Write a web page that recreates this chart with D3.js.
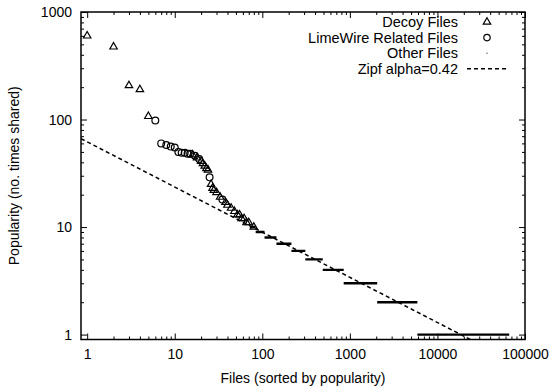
<!DOCTYPE html>
<html>
  <head>
    <title>File popularity</title>
    <script src="https://d3js.org/d3.v7.min.js"></script>
    <style>
      body { margin: 0; background: white; }
      text { font-family: "Liberation Sans", Arial, sans-serif; fill: black; }
      .axis path { stroke: none; }
      .axis line { stroke: black; stroke-width: 1; }
      .axis text { font-size: 14px; }
    </style>
  </head>
  <body>
    <div id="chart"></div>
    <script>
      // Decoy files (rank, times shared)
      const decoyRank = [1, 2, 3, 4, 5, 16, 18, 20, 21, 22, 23, 24, 26, 27, 28, 30, 33, 38, 40, 44, 48, 52, 55, 58, 62, 66, 70, 80];
      const decoyPop = [600, 474, 207, 190, 107, 47, 44, 41, 39, 37, 35, 34, 25, 23, 22, 21, 19, 17, 16, 15, 14, 13, 13, 12, 12, 11, 11, 10];

      // LimeWire related files
      const limeRank = [6, 7, 8, 9, 10, 11, 12, 13, 14, 15, 17, 19, 25, 35];
      const limePop = [98, 60, 58, 56, 55, 50, 49, 49, 48, 48, 46, 43, 29, 18];

      // Other files: runs of equal popularity (first rank, last rank)
      const otherPop = [10, 9, 8, 7, 6, 5, 4, 3, 2, 1];
      const otherFrom = [72, 84, 106, 145, 215, 310, 490, 850, 2050, 5900];
      const otherTo = [84, 106, 145, 215, 310, 490, 850, 2050, 5900, 66000];

      // Zipf fit
      const zipfAlpha = 0.42;
      const zipfC = 62;

      const xTicks = [1, 10, 100, 1000, 10000, 100000];
      const yTicks = [1, 10, 100, 1000];
      const legendLabels = ["Decoy Files", "LimeWire Related Files", "Other Files", "Zipf alpha=0.42"];

      const W = 550, H = 387;
      const margin = { top: 12, right: 25, bottom: 47.5, left: 81 };

      const svg = d3.select("#chart").append("svg").attr("width", W).attr("height", H);

      const x = d3.scaleLog().domain([0.85, 100000]).range([margin.left, W - margin.right]);
      const y = d3.scaleLog().domain([0.9, 1000]).range([H - margin.bottom, margin.top]);

      const x0 = x.range()[0], x1 = x.range()[1];
      const y0 = y.range()[0], y1 = y.range()[1];

      // minor ticks 2..9 per decade
      function minors(lo, hi) {
        const out = [];
        for (let d = lo; d < hi; d *= 10) for (let k = 2; k <= 9; k++) if (d * k <= hi) out.push(d * k);
        return out;
      }
      const xMinor = minors(1, 100000);
      const yMinor = minors(1, 1000);

      // axes (ticks inward like gnuplot)
      svg.append("g").attr("class", "axis").attr("transform", `translate(0,${y0})`)
        .call(d3.axisBottom(x).tickValues(xTicks).tickSize(-6).tickPadding(10).tickFormat(d3.format("d")));
      svg.append("g").attr("class", "axis").attr("transform", `translate(0,${y0})`)
        .call(d3.axisBottom(x).tickValues(xMinor).tickSize(-3).tickFormat(""));
      svg.append("g").attr("class", "axis").attr("transform", `translate(0,${y1})`)
        .call(d3.axisTop(x).tickValues(xTicks).tickSize(-6).tickFormat(""));
      svg.append("g").attr("class", "axis").attr("transform", `translate(0,${y1})`)
        .call(d3.axisTop(x).tickValues(xMinor).tickSize(-3).tickFormat(""));

      svg.append("g").attr("class", "axis").attr("transform", `translate(${x0},0)`)
        .call(d3.axisLeft(y).tickValues(yTicks).tickSize(-6).tickPadding(9).tickFormat(d3.format("d")));
      svg.append("g").attr("class", "axis").attr("transform", `translate(${x0},0)`)
        .call(d3.axisLeft(y).tickValues(yMinor).tickSize(-3).tickFormat(""));
      svg.append("g").attr("class", "axis").attr("transform", `translate(${x1},0)`)
        .call(d3.axisRight(y).tickValues(yTicks).tickSize(-6).tickFormat(""));
      svg.append("g").attr("class", "axis").attr("transform", `translate(${x1},0)`)
        .call(d3.axisRight(y).tickValues(yMinor).tickSize(-3).tickFormat(""));

      // border
      svg.append("rect")
        .attr("x", x0).attr("y", y1).attr("width", x1 - x0).attr("height", y0 - y1)
        .attr("fill", "none").attr("stroke", "black").attr("stroke-width", 1.5);

      // clip for data
      svg.append("clipPath").attr("id", "clip").append("rect")
        .attr("x", x0).attr("y", y1).attr("width", x1 - x0).attr("height", y0 - y1);
      const plot = svg.append("g").attr("clip-path", "url(#clip)");

      // zipf line
      const zx = [0.85, 100000];
      plot.append("line")
        .attr("x1", x(zx[0])).attr("y1", y(zipfC * Math.pow(zx[0], -zipfAlpha)))
        .attr("x2", x(zx[1])).attr("y2", y(zipfC * Math.pow(zx[1], -zipfAlpha)))
        .attr("stroke", "black").attr("stroke-width", 1.5).attr("stroke-dasharray", "4,3");

      // other files as runs of dots
      const others = otherPop.map((p, i) => ({ p, a: otherFrom[i], b: otherTo[i] }));
      plot.selectAll(".other").data(others).enter().append("line")
        .attr("x1", (d) => x(d.a)).attr("x2", (d) => x(d.b))
        .attr("y1", (d) => y(d.p)).attr("y2", (d) => y(d.p))
        .attr("stroke", "black").attr("stroke-width", 2.4);

      const tri = d3.symbol().type(d3.symbolTriangle).size(24);

      // decoy triangles
      plot.selectAll(".decoy").data(decoyRank.map((r, i) => [r, decoyPop[i]])).enter().append("path")
        .attr("d", tri)
        .attr("transform", (d) => `translate(${x(d[0])},${y(d[1])})`)
        .attr("fill", "none").attr("stroke", "black").attr("stroke-width", 1.2);

      // limewire circles
      plot.selectAll(".lime").data(limeRank.map((r, i) => [r, limePop[i]])).enter().append("circle")
        .attr("cx", (d) => x(d[0])).attr("cy", (d) => y(d[1])).attr("r", 3.4)
        .attr("fill", "none").attr("stroke", "black").attr("stroke-width", 1.2);

      // legend
      const lg = svg.append("g");
      const rowY = (i) => 22 + i * 15.6;
      lg.selectAll("text").data(legendLabels).enter().append("text")
        .attr("x", 458).attr("y", (d, i) => rowY(i)).attr("dy", "0.35em")
        .attr("text-anchor", "end").style("font-size", "14.5px").text((d) => d);
      lg.append("path").attr("d", tri).attr("transform", `translate(487,${rowY(0)})`)
        .attr("fill", "none").attr("stroke", "black").attr("stroke-width", 1.2);
      lg.append("circle").attr("cx", 487).attr("cy", rowY(1)).attr("r", 3.2)
        .attr("fill", "none").attr("stroke", "black").attr("stroke-width", 1.2);
      lg.append("rect").attr("x", 486.5).attr("y", rowY(2) - 0.5).attr("width", 1).attr("height", 1).attr("fill", "black");
      lg.append("line").attr("x1", 467).attr("x2", 509).attr("y1", rowY(3)).attr("y2", rowY(3))
        .attr("stroke", "black").attr("stroke-width", 1.5).attr("stroke-dasharray", "4,3");

      // axis titles
      svg.append("text").attr("x", (x0 + x1) / 2).attr("y", 383)
        .attr("text-anchor", "middle").style("font-size", "14px").text("Files (sorted by popularity)");
      svg.append("text").attr("transform", `translate(19,${(y0 + y1) / 2}) rotate(-90)`)
        .attr("text-anchor", "middle").style("font-size", "14px").text("Popularity (no. times shared)");
    </script>
  </body>
</html>
